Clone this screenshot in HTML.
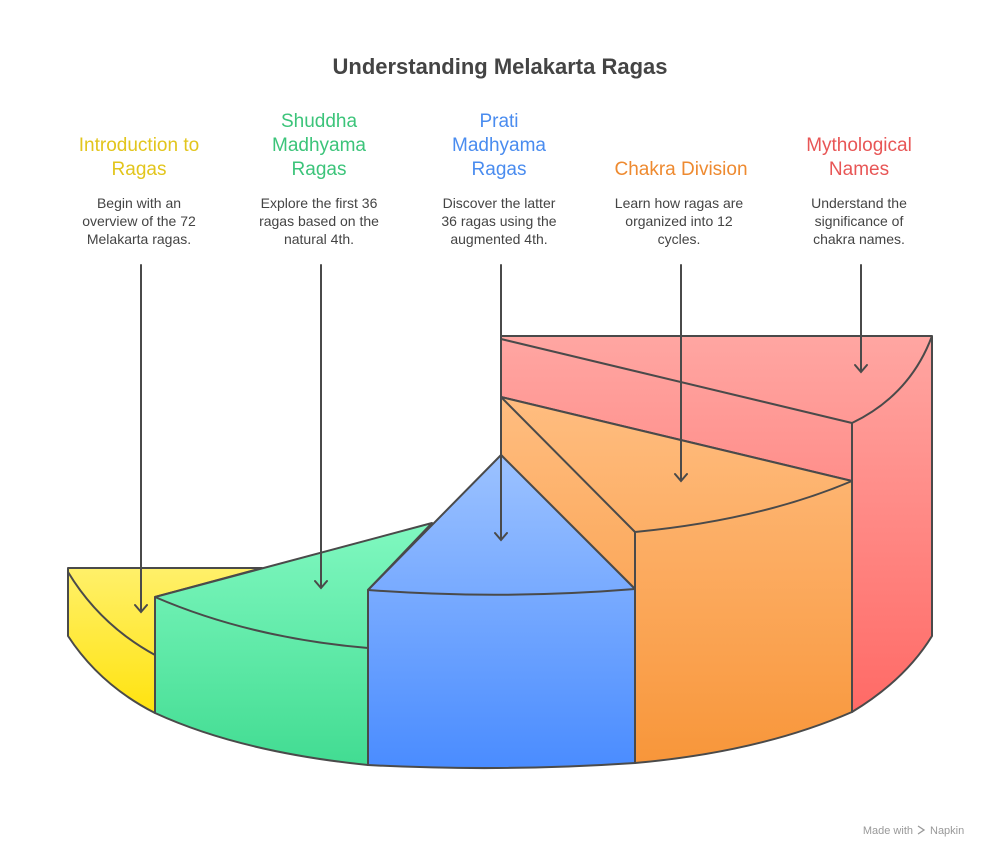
<!DOCTYPE html>
<html><head><meta charset="utf-8"><style>
body{margin:0;background:#fff}
svg{display:block}
text{font-family:"Liberation Sans",sans-serif}
.h{font-size:19px;text-anchor:middle}
.d{font-size:14px;fill:#444;text-anchor:middle}
</style></head><body>
<svg width="992" height="858" viewBox="0 0 992 858">
<defs>
<linearGradient id="gy" x1="0" y1="0" x2="0" y2="1"><stop offset="0" stop-color="#fff06a"/><stop offset="1" stop-color="#ffe30f"/></linearGradient>
<linearGradient id="gg" x1="0" y1="0" x2="0" y2="1"><stop offset="0" stop-color="#80f8c0"/><stop offset="1" stop-color="#42dc92"/></linearGradient>
<linearGradient id="gb" x1="0" y1="0" x2="0" y2="1"><stop offset="0" stop-color="#9cc2ff"/><stop offset="1" stop-color="#4a8cff"/></linearGradient>
<linearGradient id="go" x1="0" y1="0" x2="0" y2="1"><stop offset="0" stop-color="#ffbd80"/><stop offset="1" stop-color="#f8963a"/></linearGradient>
<linearGradient id="gr" x1="0" y1="0" x2="0" y2="1"><stop offset="0" stop-color="#ffa6a2"/><stop offset="1" stop-color="#ff6a66"/></linearGradient>
</defs>
<text x="500" y="74" font-size="22" font-weight="bold" fill="#444" text-anchor="middle">Understanding Melakarta Ragas</text>

<g stroke="#4a4a4a" stroke-width="2" stroke-linejoin="round">
<path d="M501,336 L932,336 L932,636 Q905,680 852,712 L852,481 L501,397 Z" fill="url(#gr)"/>
<path d="M501,339 L852,423 Q910,395 932,336" fill="none"/>
<path d="M852,423 L852,481" fill="none"/>
<path d="M501,397 L852,481 L852,712 Q760,752 635,763 L635,589 L501,455 Z" fill="url(#go)"/>
<path d="M501,397 L635,532 Q760,520 852,481 M635,532 L635,589" fill="none"/>
<path d="M68,568 L262,568 L155,597 L155,713 Q100,685 68,636 Z" fill="url(#gy)"/>
<path d="M68,572 Q100,625 155,655" fill="none"/>
<path d="M155,597 L432,523 L368,590 L368,765 Q240,752 155,713 Z" fill="url(#gg)"/>
<path d="M155,597 Q250,638 368,648" fill="none"/>
<path d="M501,455 L635,589 L635,763 Q500,772 368,765 L368,590 Z" fill="url(#gb)"/>
<path d="M368,590 Q500,600 635,589" fill="none"/>
</g>

<g stroke="#4a4a4a" stroke-width="2" fill="none" stroke-linecap="round">
<path d="M141,265 V612 M135,605 L141,612 L147,605"/>
<path d="M321,265 V588 M315,581 L321,588 L327,581"/>
<path d="M501,265 V540 M495,533 L501,540 L507,533"/>
<path d="M681,265 V481 M675,474 L681,481 L687,474"/>
<path d="M861,265 V372 M855,365 L861,372 L867,365"/>
</g>

<g class="h">
<text x="139" y="151" fill="#e2c51c">Introduction to</text>
<text x="139" y="175" fill="#e2c51c">Ragas</text>
<text x="319" y="127" fill="#3cc47a">Shuddha</text>
<text x="319" y="151" fill="#3cc47a">Madhyama</text>
<text x="319" y="175" fill="#3cc47a">Ragas</text>
<text x="499" y="127" fill="#4a8cef">Prati</text>
<text x="499" y="151" fill="#4a8cef">Madhyama</text>
<text x="499" y="175" fill="#4a8cef">Ragas</text>
<text x="681" y="175" fill="#ee8a30">Chakra Division</text>
<text x="859" y="151" fill="#e85656">Mythological</text>
<text x="859" y="175" fill="#e85656">Names</text>
</g>
<g class="d">
<text x="139" y="208">Begin with an</text><text x="139" y="226">overview of the 72</text><text x="139" y="244">Melakarta ragas.</text>
<text x="319" y="208">Explore the first 36</text><text x="319" y="226">ragas based on the</text><text x="319" y="244">natural 4th.</text>
<text x="499" y="208">Discover the latter</text><text x="499" y="226">36 ragas using the</text><text x="499" y="244">augmented 4th.</text>
<text x="679" y="208">Learn how ragas are</text><text x="679" y="226">organized into 12</text><text x="679" y="244">cycles.</text>
<text x="859" y="208">Understand the</text><text x="859" y="226">significance of</text><text x="859" y="244">chakra names.</text>
</g>
<text x="913" y="834" font-size="11" fill="#999" text-anchor="end">Made with</text>
<text x="930" y="834" font-size="11" fill="#999">Napkin</text>
<path d="M918,826 l6,4 l-6,4" stroke="#999" fill="none" stroke-width="1.3"/>
</svg>
</body></html>
